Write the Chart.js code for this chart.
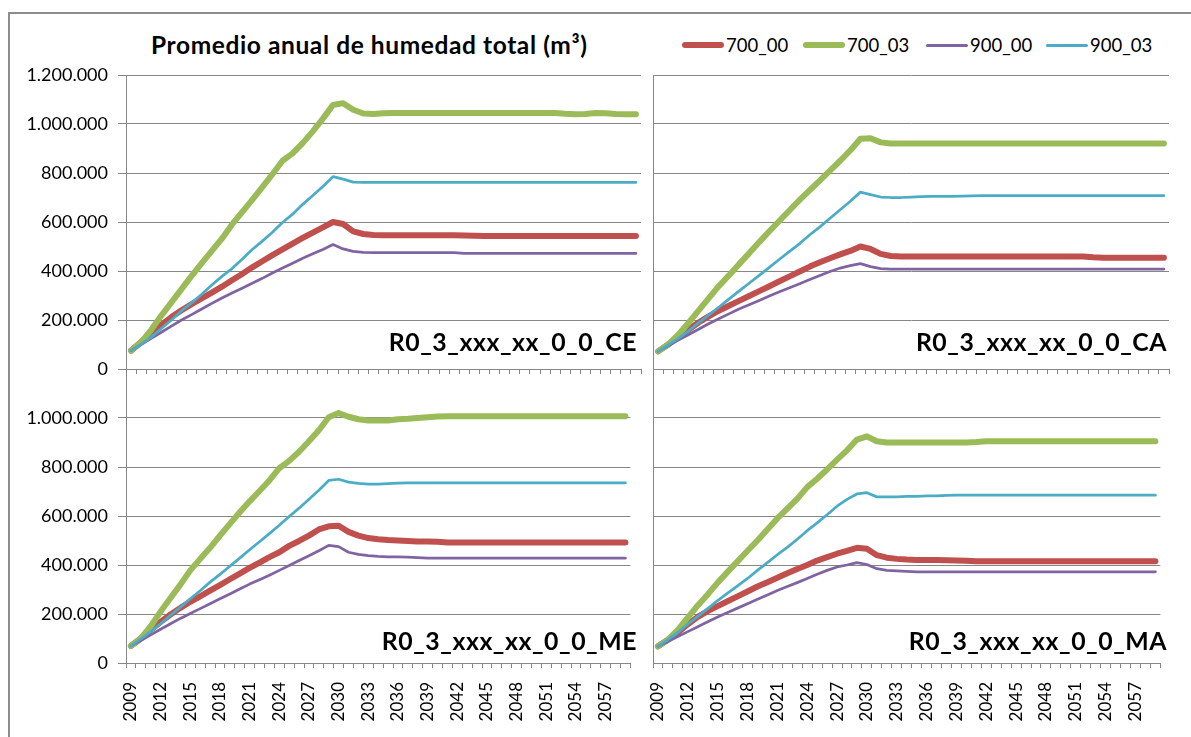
<!DOCTYPE html>
<html lang="es">
<head>
<meta charset="utf-8">
<title>Promedio anual de humedad total</title>
<script src="https://cdn.jsdelivr.net/npm/chart.js@4.4.0/dist/chart.umd.min.js"></script>
<style>
  html, body { margin: 0; padding: 0; background: #fff; }
  body { width: 1191px; height: 737px; position: relative; overflow: hidden; font-family: Lato, "Open Sans", sans-serif; color: #000; }
  .marco { position: absolute; left: 8px; top: 12px; width: 1300px; height: 900px; border-left: 2px solid #8c8c8c; border-top: 2px solid #8c8c8c; }
  canvas { position: absolute; }
  #titulo { position: absolute; left: 151px; top: 31px; font-weight: bold; font-size: 24.5px; letter-spacing: 0.6px; line-height: 28px; white-space: nowrap; }
  .item { position: absolute; top: 35px; font-size: 18.5px; line-height: 20px; display: flex; align-items: center; white-space: nowrap; }
  .item i { display: inline-block; width: 42px; border-radius: 3px; margin-right: 2px; }
  .rotulo { position: absolute; font-weight: bold; font-size: 24.8px; letter-spacing: 0.55px; line-height: 26px; white-space: nowrap; }
</style>
</head>
<body>
<div class="marco"></div>
<div id="titulo">Promedio anual de humedad total (m³)</div>
<div id="leyenda"></div>

<canvas id="g_ce" width="660" height="330" style="left:0px;top:60px"></canvas>
<canvas id="g_ca" width="550" height="330" style="left:640px;top:60px"></canvas>
<canvas id="g_me" width="660" height="382" style="left:0px;top:355px"></canvas>
<canvas id="g_ma" width="550" height="382" style="left:640px;top:355px"></canvas>

<div class="rotulo" style="right:554px;top:329px">R0_3_xxx_xx_0_0_CE</div>
<div class="rotulo" style="right:24px;top:329px">R0_3_xxx_xx_0_0_CA</div>
<div class="rotulo" style="right:554px;top:628px">R0_3_xxx_xx_0_0_ME</div>
<div class="rotulo" style="right:24px;top:628px">R0_3_xxx_xx_0_0_MA</div>

<script>
// ===== DATOS (miles de m³) =====
const anios = [
  "2009","2010","2011","2012","2013","2014","2015","2016","2017","2018",
  "2019","2020","2021","2022","2023","2024","2025","2026","2027","2028",
  "2029","2030","2031","2032","2033","2034","2035","2036","2037","2038",
  "2039","2040","2041","2042","2043","2044","2045","2046","2047","2048",
  "2049","2050","2051","2052","2053","2054","2055","2056","2057","2058","2059"
];
const aniosRotulados = ["2009","2012","2015","2018","2021","2024","2027","2030","2033",
  "2036","2039","2042","2045","2048","2051","2054","2057"];
const etiquetasY = ["0","200.000","400.000","600.000","800.000","1.000.000","1.200.000"];

const series = ["700_00", "700_03", "900_00", "900_03"];
const colores = ["#C0504D", "#9BBB59", "#8064A2", "#4BACC6"];
const grosores = [6, 6, 2.75, 2.75];

// CE
const ce_700_00 = [75,110,145,180,212,240,265,288,312,336,362,388,415,440,465,488,512,535,557,578,600,
  592,562,551,547,546,546,546,546,546,546,546,546,545,544,543,543,543,543,543,543,543,543,543,543,543,543,543,543,543,543];
const ce_700_03 = [75,110,160,218,272,326,380,432,482,532,590,640,690,742,795,850,880,922,970,1022,1078,
  1085,1058,1043,1041,1044,1045,1045,1045,1045,1045,1045,1045,1045,1045,1045,1045,1045,1045,1045,1045,1045,1045,1042,1040,1041,1045,1044,1041,1040,1040];
const ce_900_00 = [75,100,125,150,175,200,222,245,268,290,310,330,350,370,392,412,432,452,470,488,508,
  490,480,476,475,475,475,475,475,475,475,475,475,472,472,472,472,472,472,472,472,472,472,472,472,472,472,472,472,472,472];
const ce_900_03 = [75,100,130,165,200,238,270,305,343,378,410,448,488,522,558,598,632,672,708,745,785,
  775,763,762,762,762,762,762,762,762,762,762,762,762,762,762,762,762,762,762,762,762,762,762,762,762,762,762,762,762,762];

// CA
const ca_700_00 = [72,100,130,160,190,215,238,258,278,298,318,338,358,378,398,418,436,452,468,482,500,
  490,470,461,459,459,459,459,459,459,459,459,459,459,459,459,459,459,459,459,459,459,459,456,454,454,454,454,454,454,454];
const ca_700_03 = [72,100,140,188,238,288,338,382,428,472,518,562,605,648,690,730,770,810,850,892,940,
  942,925,920,920,920,920,920,920,920,920,920,920,920,920,920,920,920,920,920,920,920,920,920,920,920,920,920,920,920,920];
const ca_900_00 = [72,95,118,140,162,185,205,225,245,262,280,298,315,332,348,365,382,398,412,422,430,
  418,410,408,408,408,408,408,408,408,408,408,408,408,408,408,408,408,408,408,408,408,408,408,408,408,408,408,408,408,408];
const ca_900_03 = [72,98,125,155,188,220,252,285,318,350,382,415,448,480,512,548,580,615,650,685,722,
  712,702,700,700,702,704,705,705,705,706,707,708,708,708,708,708,708,708,708,708,708,708,708,708,708,708,708,708,708,708];

// ME
const me_700_00 = [70,100,135,168,198,225,250,272,295,318,342,365,388,410,432,452,478,498,520,545,558,
  560,535,520,510,505,502,500,498,496,496,495,492,492,492,492,492,492,492,492,492,492,492,492,492,492,492,492,492,492,492];
const me_700_03 = [70,100,150,210,265,320,378,425,470,520,568,615,660,702,745,795,825,862,905,950,1003,
  1020,1005,995,990,990,990,995,997,1000,1003,1006,1007,1007,1007,1007,1007,1007,1007,1007,1007,1007,1007,1007,1007,1007,1007,1007,1007,1007,1007];
const me_900_00 = [70,92,115,138,160,182,202,222,242,262,282,302,322,340,358,378,398,418,438,458,480,
  475,452,443,438,435,433,433,432,430,428,428,428,428,428,428,428,428,428,428,428,428,428,428,428,428,428,428,428,428,428];
const me_900_03 = [70,98,128,160,195,228,262,295,330,362,395,428,462,495,528,562,598,632,668,705,745,
  750,738,733,730,730,732,734,735,735,735,735,735,735,735,735,735,735,735,735,735,735,735,735,735,735,735,735,735,735,735];

// MA
const ma_700_00 = [68,95,125,158,188,212,232,252,272,292,312,330,348,366,384,400,418,432,446,458,470,
  466,440,430,425,422,420,420,420,419,418,417,415,415,415,415,415,415,415,415,415,415,415,415,415,415,415,415,415,415,415];
const ma_700_03 = [68,95,135,185,235,280,328,372,415,458,500,545,590,630,670,718,752,790,830,868,912,
  925,905,900,900,900,900,900,900,900,900,900,902,905,905,905,905,905,905,905,905,905,905,905,905,905,905,905,905,905,905];
const ma_900_00 = [68,88,108,128,148,168,188,206,224,242,260,278,296,312,328,345,362,378,392,400,410,
  402,385,378,376,374,372,372,372,372,372,372,372,372,372,372,372,372,372,372,372,372,372,372,372,372,372,372,372,372,372];
const ma_900_03 = [68,95,125,158,190,222,255,285,315,345,378,410,442,472,505,540,572,605,640,668,690,
  695,678,678,678,680,680,682,682,684,685,685,685,685,685,685,685,685,685,685,685,685,685,685,685,685,685,685,685,685,685];

// ===== LEYENDA =====
const posLeyenda = [682, 803, 926, 1046];
const leyenda = document.getElementById("leyenda");
series.forEach((s, i) => {
  const d = document.createElement("div");
  d.className = "item";
  d.style.left = posLeyenda[i] + "px";
  d.innerHTML = `<i style="height:${grosores[i] > 3 ? 6 : 3}px;background:${colores[i]}"></i>${s}`;
  leyenda.appendChild(d);
});

// ===== PANELES =====
const GRIS = "#868686";

function crearPanel(id, datos, izquierda, abajo) {
  const ctx = document.getElementById(id).getContext("2d");
  return new Chart(ctx, {
    type: "line",
    data: {
      labels: anios,
      datasets: datos.map((valores, i) => ({
        label: series[i],
        data: valores,
        borderColor: colores[i],
        borderWidth: grosores[i],
        pointRadius: 0,
        tension: 0,
        borderJoinStyle: "round",
        borderCapStyle: "round",
        order: 4 - i,
      })),
    },
    options: {
      responsive: false,
      animation: false,
      events: [],
      layout: {
        padding: { top: abajo ? 14 : 15, right: izquierda ? 19 : 21, bottom: abajo ? 14 : 11, left: 0 },
      },
      plugins: { legend: { display: false }, tooltip: { enabled: false } },
      scales: {
        x: {
          offset: true,
          grid: { drawOnChartArea: false, drawTicks: true, tickLength: 5, offset: true, color: GRIS },
          border: { color: GRIS, width: 1 },
          ticks: {
            display: abajo,
            autoSkip: false,
            maxRotation: 90,
            minRotation: 90,
            padding: 14,
            color: "#000",
            font: { family: "Lato", size: 17 },
            callback: (v, i) => (aniosRotulados.includes(anios[i]) ? anios[i] : ""),
          },
          afterFit: (s) => { s.height = abajo ? 60 : 10; },
        },
        y: {
          min: 0,
          max: 1200,
          grid: { color: GRIS, lineWidth: 1, drawTicks: izquierda, tickLength: 8 },
          border: { color: GRIS, width: 1 },
          ticks: {
            display: izquierda,
            stepSize: 200,
            padding: 10,
            color: "#000",
            font: { family: "Lato", size: 18 },
            callback: (v, i) => (abajo && v === 1200 ? "" : etiquetasY[i]),
          },
          afterFit: (s) => {
            s.width = izquierda ? 126 : 13;
            // el área de trazado la fija el padding del layout
            s.paddingTop = 0;
            s.paddingBottom = 0;
          },
        },
      },
    },
  });
}

crearPanel("g_ce", [ce_700_00, ce_700_03, ce_900_00, ce_900_03], true, false);
crearPanel("g_ca", [ca_700_00, ca_700_03, ca_900_00, ca_900_03], false, false);
crearPanel("g_me", [me_700_00, me_700_03, me_900_00, me_900_03], true, true);
crearPanel("g_ma", [ma_700_00, ma_700_03, ma_900_00, ma_900_03], false, true);
</script>
</body>
</html>
